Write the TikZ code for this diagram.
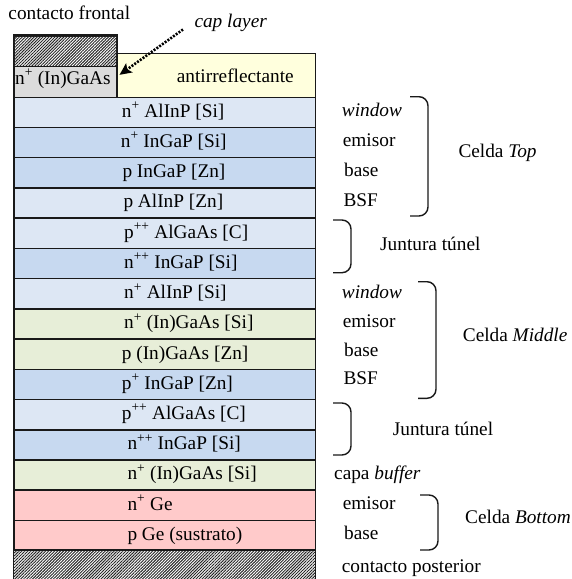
\documentclass[tikz,border=0pt]{standalone}
\usepackage{fontspec}
\setmainfont{Liberation Serif}
\usetikzlibrary{patterns.meta,arrows.meta}
\definecolor{lb}{RGB}{221,231,244}
\definecolor{mb}{RGB}{199,217,240}
\definecolor{gr}{RGB}{231,238,216}
\definecolor{pk}{RGB}{255,202,202}
\definecolor{yl}{RGB}{255,255,221}
\definecolor{cg}{RGB}{220,220,220}
\definecolor{ln}{RGB}{25,25,25}
\begin{document}
\begin{tikzpicture}[x=1pt,y=-1pt,
  layerbox/.style={draw=ln, line width=1.5pt, inner sep=0pt, anchor=north west},
  lbl/.style={anchor=base west, inner sep=0pt, font=\fontsize{19.3}{22}\selectfont},
  hatch/.style={pattern={Lines[angle=45,distance=2.1pt,line width=0.95pt]}, pattern color=black!85},
  brk/.style={draw=ln, line width=1.4pt, rounded corners=9pt},
  dotarrow/.style={line width=2.6pt, dash pattern=on 2pt off 1.4pt, -{Stealth[length=12pt,width=11pt,inset=2.5pt]}}]
\useasboundingbox (0,0) rectangle (572,579);
\fill[white] (0,0) rectangle (572,579);

% top contact, cap layer, antireflective coating
\node[layerbox, fill=yl, minimum width=198.9pt, minimum height=43.8pt] (arc) at (116,52.7) {};
\node[layerbox, fill=white, minimum width=102.7pt, minimum height=30.7pt] (contF) at (13.3,35) {};
\fill[hatch] (contF.south west) rectangle (contF.north east);
\draw[ln, line width=1.5pt] (contF.south west) rectangle (contF.north east);
\node[layerbox, fill=cg, minimum width=102.7pt, minimum height=30.8pt] (cap) at (13.3,65.7) {};

\node[lbl] (tcf) at (8.3,19.3) {contacto frontal};
\node[lbl] (tcap) at (194.3,27.3) {\itshape cap layer};
\node[lbl] (tcapl) at (15,84) {n\textsuperscript{+} (In)GaAs};
\node[lbl] (tarc) at (176.7,82.7) {antirreflectante};
\coordinate (arrS) at (183,29.5);
\draw[dotarrow] (arrS) -- ([xshift=2pt,yshift=7pt]cap.east);

% layer stack
\foreach \t/\c/\x [count=\i] in {
  {n\textsuperscript{+} AlInP [Si]}/lb/121.7,
  {n\textsuperscript{+} InGaP [Si]}/mb/120.7,
  {p InGaP [Zn]}/mb/122.3,
  {p AlInP [Zn]}/lb/123.3,
  {p\textsuperscript{++} AlGaAs [C]}/lb/124,
  {n\textsuperscript{++} InGaP [Si]}/mb/124,
  {n\textsuperscript{+} AlInP [Si]}/lb/124,
  {n\textsuperscript{+} (In)GaAs [Si]}/gr/124,
  {p (In)GaAs [Zn]}/gr/121.7,
  {p\textsuperscript{+} InGaP [Zn]}/mb/121.7,
  {p\textsuperscript{++} AlGaAs [C]}/lb/121.7,
  {n\textsuperscript{++} InGaP [Si]}/mb/127.3,
  {n\textsuperscript{+} (In)GaAs [Si]}/gr/127.3,
  {n\textsuperscript{+} Ge}/pk/127.3,
  {p Ge (sustrato)}/pk/127.3}
{
  \pgfmathsetmacro\ty{96.5+(\i-1)*30.23}
  \node[layerbox, fill=\c, minimum width=301.6pt, minimum height=30.23pt] (L\i) at (13.3,\ty) {};
  \node[lbl] (T\i) at (\x,\ty+20.7) {\t};
}

% back contact
\node[inner sep=0pt, anchor=north west, minimum width=301.6pt, minimum height=32pt] (contB) at (13.3,549.9) {};
\fill[white] (contB.north west) rectangle (contB.south east);
\fill[hatch] (contB.north west) rectangle (contB.south east);
\draw[ln, line width=1.5pt] (contB.south west) -- (contB.north west) -- (contB.north east) -- (contB.south east);

% right-hand labels
\node[lbl] (w1) at (341.7,116) {\itshape window};
\node[lbl] (e1) at (342.7,146) {emisor};
\node[lbl] (b1) at (344,176) {base};
\node[lbl] (s1) at (343.3,206) {BSF};
\node[lbl] (ct) at (458.3,157.3) {Celda \textit{Top}};
\draw[brk] (410,96.7) -- (428,96.7) -- (428,216) -- (410,216);

\node[lbl] (j1) at (380,250) {Juntura túnel};
\draw[brk] (333,220) -- (351,220) -- (351,272.7) -- (333,272.7);

\node[lbl] (w2) at (341.7,298) {\itshape window};
\node[lbl] (e2) at (342.7,327) {emisor};
\node[lbl] (b2) at (344,356) {base};
\node[lbl] (s2) at (343.3,384) {BSF};
\node[lbl] (cm) at (462.7,341.7) {Celda \textit{Middle}};
\draw[brk] (418,281.7) -- (436,281.7) -- (436,398.3) -- (418,398.3);

\node[lbl] (j2) at (392.7,435) {Juntura túnel};
\draw[brk] (333,403) -- (351,403) -- (351,455) -- (333,455);

\node[lbl] (cb) at (334,479) {capa \textit{buffer}};
\node[lbl] (e3) at (342.7,509) {emisor};
\node[lbl] (b3) at (344,539) {base};
\node[lbl] (cbt) at (465,523.3) {Celda \textit{Bottom}};
\draw[brk] (420,495) -- (438,495) -- (438,550) -- (420,550);

\node[lbl] (cp) at (341.7,572.7) {contacto posterior};
\end{tikzpicture}
\end{document}
